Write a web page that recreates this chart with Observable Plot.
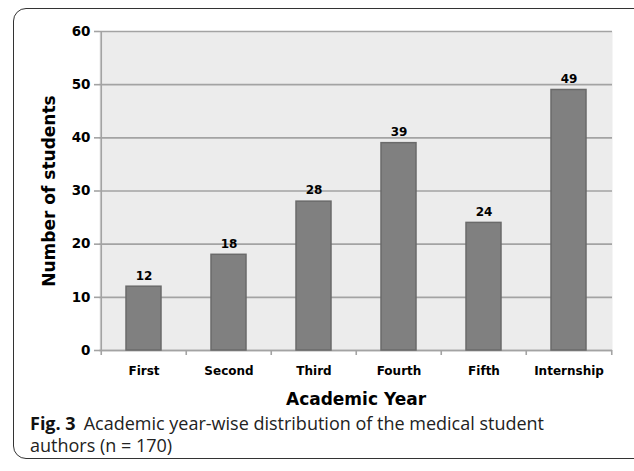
<!DOCTYPE html>
<html>
<head>
<meta charset="utf-8">
<script src="https://cdn.jsdelivr.net/npm/d3@7"></script>
<script src="https://cdn.jsdelivr.net/npm/@observablehq/plot@0.6"></script>
<style>
  html, body { margin: 0; padding: 0; background: #fff; }
  #wrap { position: relative; width: 634px; height: 471px; overflow: hidden; }
  #box { position: absolute; left: 13px; top: 8px; width: 640px; height: 451px; border: 1.3px solid #333; border-radius: 13px; box-sizing: border-box; }
  #chart { position: absolute; left: 0; top: 0; }
  #caption { position: absolute; left: 30px; top: 412px; font-family: "Open Sans", sans-serif; font-size: 18px; line-height: 22px; color: #222; width: 570px; }
  #caption div { height: 22px; white-space: nowrap; }
  #caption b { font-weight: 700; color: #111; margin-right: 8px; }
</style>
</head>
<body>
<div id="wrap">
  <div id="box"></div>
  <div id="chart"></div>
  <div id="caption"><div><b>Fig. 3</b><span>Academic year-wise distribution of the medical student</span></div><div>authors (n = 170)</div></div>
</div>
<script>
const categories = ["First", "Second", "Third", "Fourth", "Fifth", "Internship"];
const students = [12, 18, 28, 39, 24, 49];
const yTicks = [0, 10, 20, 30, 40, 50, 60];

const data = categories.map((c, i) => ({year: c, n: students[i]}));
const W = 634, H = 410, ml = 99, mr = 22, mt = 31, mb = 60;
const step = (W - ml - mr) / categories.length;
const font = "DejaVu Sans, Verdana, sans-serif";
const gridColor = "#a3a3a3";

const chart = Plot.plot({
  width: W, height: H,
  marginLeft: ml, marginRight: mr, marginTop: mt, marginBottom: mb,
  style: {fontFamily: font, fontWeight: "bold", fontSize: "11.5px", color: "#000", background: "transparent"},
  x: {domain: categories, paddingInner: 0.59, paddingOuter: 0.295, label: null},
  y: {domain: [0, 60], ticks: yTicks, label: null},
  marks: [
    Plot.frame({fill: "#ececec", stroke: null}),
    Plot.gridY(yTicks, {stroke: gridColor, strokeOpacity: 1, strokeWidth: 1.6}),
    Plot.ruleX([categories[0]], {x: d => d, stroke: gridColor, strokeWidth: 1.6, dx: -step/2}),
    Plot.ruleY([0], {stroke: gridColor, strokeWidth: 1.6}),
    Plot.ruleX(categories, {x: d => d, y1: 0, y2: 0, insetBottom: -5, dx: -step/2, stroke: gridColor, strokeWidth: 1.6}),
    Plot.ruleX([categories[categories.length-1]], {x: d => d, y1: 0, y2: 0, insetBottom: -5, dx: step/2, stroke: gridColor, strokeWidth: 1.6}),
    Plot.barY(data, {x: "year", y: "n", fill: "#808080", stroke: "#6a6a6a", strokeWidth: 1.5}),
    Plot.text(data, {x: "year", y: "n", text: d => String(d.n), dy: -11, fontWeight: "bold", fontSize: 12, fill: "#000"}),
    Plot.axisY(yTicks, {tickSize: 5, tickPadding: 4, stroke: gridColor, strokeWidth: 1.6, fontSize: 13.5, fontWeight: "bold", label: "Number of students", labelAnchor: "center", labelOffset: 57, labelArrow: "none"}),
    Plot.axisX({tickSize: 0, tickPadding: 16, fontSize: 12, fontWeight: "bold", label: "Academic Year", labelAnchor: "center", labelOffset: 54, labelArrow: "none"})
  ]
});
document.getElementById("chart").appendChild(chart);
chart.querySelectorAll("g[aria-label='y-axis label'] text, g[aria-label='x-axis label'] text").forEach(t => { t.style.fontSize = "17px"; t.style.fontWeight = "bold"; });
</script>
</body>
</html>
